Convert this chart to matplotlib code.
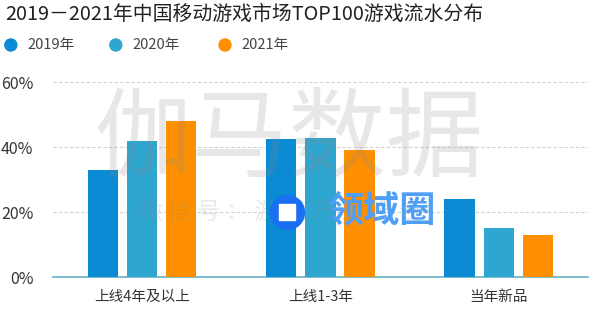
import matplotlib.pyplot as plt
import numpy as np

plt.rcParams['font.family'] = ['Noto Sans CJK SC', 'DejaVu Sans']

categories = ['上线4年及以上', '上线1-3年', '当年新品']
years = ['2019年', '2020年', '2021年']
share_2019 = [0.33, 0.425, 0.24]
share_2020 = [0.42, 0.429, 0.15]
share_2021 = [0.48, 0.39, 0.13]
yticks = [0, 0.2, 0.4, 0.6]
colors = ['#0a8bd3', '#2fa6d0', '#fd8f00']

fig = plt.figure(figsize=(6, 3.26), dpi=100)
ax = fig.add_axes([0.088, 0.150, 0.892, 0.598])

x = np.arange(len(categories))
offsets = [-0.22, 0, 0.22]
for vals, off, c in zip([share_2019, share_2020, share_2021], offsets, colors):
    ax.bar(x + off, vals, width=0.17, color=c, zorder=3)

ax.set_xlim(-0.5, 2.5)
ax.set_ylim(0, 0.6)
ax.set_yticks(yticks)
ax.set_yticklabels([f'{int(round(t * 100))}%' for t in yticks], fontsize=11.5, color='#333333')
ax.set_xticks(x)
ax.set_xticklabels(categories, fontsize=10.5, color='#333333')
ax.tick_params(axis='both', length=0)
ax.tick_params(axis='x', pad=9)
ax.tick_params(axis='y', pad=14)

ax.yaxis.grid(True, linestyle=(0, (3, 2)), color='#d0d0d0', linewidth=0.8, zorder=0)
for s in ['top', 'right', 'left']:
    ax.spines[s].set_visible(False)
ax.spines['bottom'].set_color('#62b2c6')
ax.spines['bottom'].set_linewidth(1.2)

# watermarks
ax.text(0.82, 0.42, '伽马数据', fontsize=70, color='#8a8a8a', alpha=0.2,
        ha='center', va='center', zorder=4, clip_on=False)
ax.text(0.78, 0.2, '微 信 号 ： 游 戏 产 业 报 告', fontsize=17, color='#8a8a8a', alpha=0.18,
        ha='center', va='center', zorder=4)
ax.scatter([0.81], [0.2], s=600, color='#1a6ff0', zorder=5)
ax.scatter([0.81], [0.2], s=130, marker='s', color='white', zorder=6)
ax.text(1.34, 0.2, '领域圈', fontsize=26, fontweight='bold',
        color='#4f9ff5', ha='center', va='center', zorder=6)

# title and legend
fig.text(0.008, 0.955, '2019－2021年中国移动游戏市场TOP100游戏流水分布',
         fontsize=14.3, color='#222222', va='center', ha='left')
legend_x = [0.018, 0.193, 0.375]
lax = fig.add_axes([0, 0, 1, 1], facecolor='none')
lax.axis('off')
lax.set_xlim(0, 1)
lax.set_ylim(0, 1)
lax.scatter(legend_x, [0.862] * 3, s=75, color=colors)
for lx, name in zip(legend_x, years):
    lax.text(lx + 0.027, 0.862, name, fontsize=10.5, color='#444444', va='center', ha='left')

fig.savefig('out.png', dpi=100)
